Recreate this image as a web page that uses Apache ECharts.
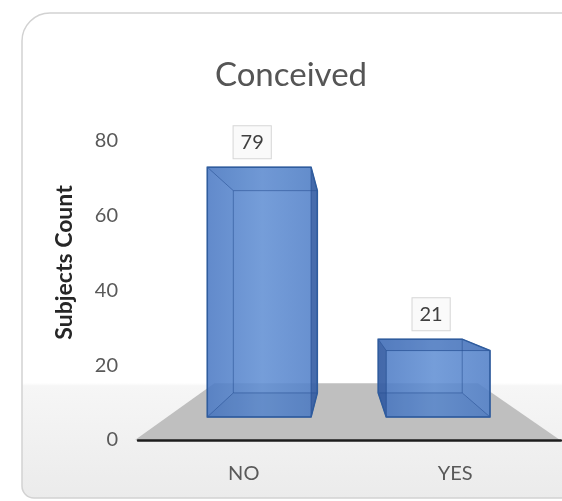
<!DOCTYPE html>
<html>
<head>
<meta charset="utf-8">
<title>Conceived</title>
<script src="https://cdn.jsdelivr.net/npm/echarts@6/dist/echarts.min.js"></script>
<style>
  html, body { margin: 0; padding: 0; background: #ffffff; }
  #chart { width: 562px; height: 501px; }
</style>
</head>
<body>
<div id="chart"></div>
<script>
// Outcome categories and number of subjects in each
const categories = ['NO', 'YES'];
const subjectCounts = [79, 21];

// Value axis range
const yMin = 0;
const yMax = 80;
const yStep = 20;

const FONT = 'Lato, "Open Sans", sans-serif';

// Perspective set-up for the 3D look: vanishing point and depth scales
const VP_X_FRAC = 0.487;   // fraction of the grid width
const VP_VALUE = 40;       // eye level, in axis units
const FRONT_SCALE = 0.846; // box front face
const BACK_SCALE = 0.685;  // box back face
const FLOOR_BACK = 0.62;   // back edge of the floor
const BAR_RATIO = 0.58;    // bar width relative to category band

function vanishingPoint(params, api) {
  const cs = params.coordSys;
  return [cs.x + cs.width * VP_X_FRAC, api.coord([0, VP_VALUE])[1]];
}
function project(p, vp, s) {
  return [vp[0] + (p[0] - vp[0]) * s, vp[1] + (p[1] - vp[1]) * s];
}

// Grey floor under the boxes
function renderFloor(params, api) {
  const cs = params.coordSys;
  const vp = vanishingPoint(params, api);
  const y0 = api.coord([0, 0])[1];
  const fl = [cs.x - 3, y0];
  const fr = [cs.x + cs.width - 1, y0];
  const bl = project(fl, vp, FLOOR_BACK);
  const br = project(fr, vp, FLOOR_BACK);
  return {
    type: 'polygon',
    shape: { points: [fl, fr, br, bl] },
    style: { fill: '#bfbfbf' },
    silent: true
  };
}

// Translucent 3D box for each count
function renderBox(params, api) {
  const vp = vanishingPoint(params, api);
  const cat = api.value(0);
  const val = api.value(1);
  const base = api.coord([cat, 0]);
  const top = api.coord([cat, val]);
  const half = api.size([1, 0])[0] * BAR_RATIO / 2;

  // rectangle in the axis plane
  const tl = [base[0] - half, top[1]], tr = [base[0] + half, top[1]];
  const bl = [base[0] - half, base[1]], br = [base[0] + half, base[1]];

  const F = [tl, tr, br, bl].map(p => project(p, vp, FRONT_SCALE));
  const B = [tl, tr, br, bl].map(p => project(p, vp, BACK_SCALE));
  // indices: 0 top-left, 1 top-right, 2 bottom-right, 3 bottom-left

  const leftOfEye = base[0] < vp[0];
  const topBelowEye = F[0][1] > vp[1];

  const hull = leftOfEye
    ? (topBelowEye ? [F[0], B[0], B[1], B[2], F[2], F[3]] : [F[0], F[1], B[1], B[2], F[2], F[3]])
    : (topBelowEye ? [B[0], B[1], F[1], F[2], F[3], B[3]] : [F[0], F[1], F[2], F[3], B[3], B[0]]);

  const sideFace = leftOfEye ? [F[1], B[1], B[2], F[2]] : [F[0], B[0], B[3], F[3]];
  const topFace = [F[0], F[1], B[1], B[0]];
  const bottomFace = [F[3], F[2], B[2], B[3]];

  const edge = 'rgba(38, 78, 145, 0.55)';
  const children = [
    {
      type: 'polygon', shape: { points: hull },
      style: {
        fill: {
          type: 'linear', x: 0, y: 0, x2: 1, y2: 0,
          colorStops: [
            { offset: 0, color: 'rgba(76, 122, 196, 0.88)' },
            { offset: 0.5, color: 'rgba(98, 144, 212, 0.88)' },
            { offset: 1, color: 'rgba(82, 128, 200, 0.88)' }
          ]
        }
      }
    },
    { type: 'polygon', shape: { points: bottomFace }, style: { fill: 'rgba(40, 80, 150, 0.12)' } },
    { type: 'polygon', shape: { points: topFace }, style: { fill: topBelowEye ? 'rgba(40, 80, 150, 0.25)' : 'rgba(40, 80, 150, 0.06)' } },
    { type: 'polygon', shape: { points: sideFace }, style: { fill: 'rgba(30, 65, 130, 0.45)' } },
    // back face edges and connecting edges
    { type: 'polygon', shape: { points: B }, style: { fill: 'none', stroke: edge, lineWidth: 1 } },
    { type: 'line', shape: { x1: F[0][0], y1: F[0][1], x2: B[0][0], y2: B[0][1] }, style: { stroke: edge, lineWidth: 1 } },
    { type: 'line', shape: { x1: F[1][0], y1: F[1][1], x2: B[1][0], y2: B[1][1] }, style: { stroke: edge, lineWidth: 1 } },
    { type: 'line', shape: { x1: F[2][0], y1: F[2][1], x2: B[2][0], y2: B[2][1] }, style: { stroke: edge, lineWidth: 1 } },
    { type: 'line', shape: { x1: F[3][0], y1: F[3][1], x2: B[3][0], y2: B[3][1] }, style: { stroke: edge, lineWidth: 1 } },
    // front face edges
    { type: 'polygon', shape: { points: F }, style: { fill: 'none', stroke: 'rgba(40, 82, 150, 0.75)', lineWidth: 1 } },
    // silhouette
    { type: 'polygon', shape: { points: hull }, style: { fill: 'none', stroke: '#2f5c9e', lineWidth: 1.5 } }
  ];

  // value label in a small framed box above the bar
  const topMost = Math.min(F[0][1], B[0][1]);
  const cx = (F[0][0] + F[1][0]) / 2 - 7;
  children.push({
    type: 'text',
    style: {
      text: String(val),
      x: cx, y: topMost - 25,
      align: 'center', verticalAlign: 'middle',
      font: '20px ' + FONT,
      fill: '#404040',
      backgroundColor: '#fafafa',
      borderColor: '#d6d6d6',
      borderWidth: 1,
      padding: [6, 7, 6, 7]
    }
  });

  return { type: 'group', children: children };
}

const chart = echarts.init(document.getElementById('chart'), null, { renderer: 'canvas' });

chart.setOption({
  animation: false,
  backgroundColor: '#ffffff',
  graphic: [{
    type: 'rect',
    z: -10,
    silent: true,
    shape: { x: 22, y: 13, width: 600, height: 485, r: [28, 0, 0, 12] },
    style: {
      fill: {
        type: 'linear', x: 0, y: 0, x2: 0, y2: 1,
        colorStops: [
          { offset: 0, color: '#ffffff' },
          { offset: 0.762, color: '#ffffff' },
          { offset: 0.768, color: '#f6f6f6' },
          { offset: 1, color: '#ebebeb' }
        ]
      },
      stroke: '#d2d2d2',
      lineWidth: 1.5
    }
  }],
  title: {
    text: 'Conceived',
    left: 286,
    top: 54,
    textAlign: 'center',
    textStyle: { fontFamily: FONT, fontSize: 33, fontWeight: 'normal', color: '#555555' }
  },
  grid: { left: 138, right: 1, top: 141, bottom: 61, containLabel: false },
  xAxis: {
    type: 'category',
    data: categories,
    axisLine: { show: true, lineStyle: { color: '#1e1e1e', width: 2.5 } },
    axisTick: { show: false },
    axisLabel: { margin: 24, fontFamily: FONT, fontSize: 20, color: '#595959' },
    splitLine: { show: false },
    z: 5
  },
  yAxis: {
    type: 'value',
    min: yMin,
    max: yMax,
    interval: yStep,
    name: 'Subjects Count',
    nameLocation: 'middle',
    nameRotate: 90,
    nameGap: 62,
    nameTextStyle: {
      fontFamily: FONT, fontSize: 23, fontWeight: 'bold', color: '#262626',
      padding: [0, 0, 0, 56]
    },
    axisLine: { show: false },
    axisTick: { show: false },
    splitLine: { show: false },
    axisLabel: { margin: 20, fontFamily: FONT, fontSize: 20, color: '#595959' }
  },
  series: [
    {
      type: 'custom',
      name: 'floor',
      z: -1,
      silent: true,
      renderItem: renderFloor,
      data: [[0, 0]]
    },
    {
      type: 'custom',
      name: 'Subjects Count',
      z: 3,
      renderItem: renderBox,
      encode: { x: 0, y: 1 },
      data: categories.map((c, i) => [i, subjectCounts[i]])
    }
  ]
});
</script>
</body>
</html>
